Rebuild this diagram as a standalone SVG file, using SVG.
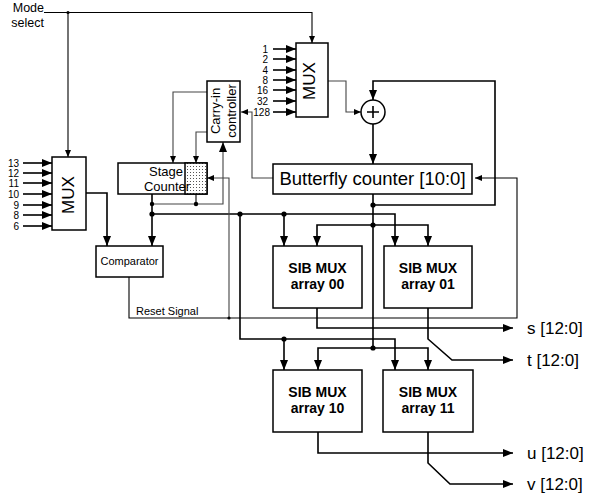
<svg xmlns="http://www.w3.org/2000/svg" width="589" height="501" viewBox="0 0 589 501">
<style>
text{font-family:"Liberation Sans",Arial,sans-serif;fill:#000}
.box{fill:#fff;stroke:#000;stroke-width:1.5}
.bus{fill:none;stroke:#000;stroke-width:1.6}
.ctl{fill:none;stroke:#444;stroke-width:1.1}
.sig{fill:none;stroke:#000;stroke-width:1.1}
.lbl{font-size:10px;text-anchor:end}
.sib{font-size:14px;font-weight:bold;text-anchor:middle}
.out{font-size:17px}
</style>
<defs>
<marker id="ab" markerWidth="10" markerHeight="8" refX="10" refY="4" orient="auto" markerUnits="userSpaceOnUse"><path d="M0,0 L10,4 L0,8 z" fill="#000"/></marker>
<marker id="as" markerWidth="7" markerHeight="6" refX="7" refY="3" orient="auto" markerUnits="userSpaceOnUse"><path d="M0,0 L7,3 L0,6 z" fill="#000"/></marker>
<pattern id="dots" width="3" height="3" patternUnits="userSpaceOnUse"><rect width="3" height="3" fill="#fff"/><rect x="1" y="1" width="1" height="1" fill="#555"/></pattern>
</defs>

<g id="mode-select">
<text x="44" y="12" font-size="12.5" text-anchor="end">Mode</text>
<text x="44" y="27" font-size="12.5" text-anchor="end">select</text>
</g>

<g id="connectors">
<path class="sig" d="M44,12.5 H312 V43" marker-end="url(#as)"/>
<path class="sig" d="M68,12.5 V157" marker-end="url(#as)"/>
<path class="bus" d="M273,49 H296" marker-end="url(#ab)"/>
<path class="bus" d="M273,59 H296" marker-end="url(#ab)"/>
<path class="bus" d="M273,70 H296" marker-end="url(#ab)"/>
<path class="bus" d="M273,80 H296" marker-end="url(#ab)"/>
<path class="bus" d="M273,90 H296" marker-end="url(#ab)"/>
<path class="bus" d="M273,101 H296" marker-end="url(#ab)"/>
<path class="bus" d="M273,112 H296" marker-end="url(#ab)"/>
<path class="bus" d="M23,163 H52" marker-end="url(#ab)"/>
<path class="bus" d="M23,173 H52" marker-end="url(#ab)"/>
<path class="bus" d="M23,183 H52" marker-end="url(#ab)"/>
<path class="bus" d="M23,194 H52" marker-end="url(#ab)"/>
<path class="bus" d="M23,205 H52" marker-end="url(#ab)"/>
<path class="bus" d="M23,215 H52" marker-end="url(#ab)"/>
<path class="bus" d="M23,226 H52" marker-end="url(#ab)"/>
<path class="ctl" d="M328,81 H346 V112 H361" marker-end="url(#as)"/>
<path class="bus" d="M373,205 H495 V81 H373 V100" marker-end="url(#ab)"/>
<path class="bus" d="M373,124 V164" marker-end="url(#ab)"/>
<path class="bus" d="M373,194 V348"/>
<path class="bus" d="M373,225 H317 V246" marker-end="url(#ab)"/>
<path class="bus" d="M373,225 H428 V246" marker-end="url(#ab)"/>
<path class="bus" d="M373,348 H318 V370" marker-end="url(#ab)"/>
<path class="bus" d="M373,348 H428 V370" marker-end="url(#ab)"/>
<path class="bus" d="M152,194 V246" marker-end="url(#ab)"/>
<path class="bus" d="M152,214 H395 V246" marker-end="url(#ab)"/>
<path class="bus" d="M284,214 V246" marker-end="url(#ab)"/>
<path class="bus" d="M240,214 V339 H395 V370" marker-end="url(#ab)"/>
<path class="bus" d="M284,339 V370" marker-end="url(#ab)"/>
<path class="sig" d="M196,194 V204"/>
<path class="ctl" d="M152,204 H223 V142" marker-end="url(#ab)"/>
<path class="ctl" d="M207,92 H173 V163" marker-end="url(#as)"/>
<path class="ctl" d="M207,132 H196 V163" marker-end="url(#as)"/>
<path class="ctl" d="M273,178 H252 V112 H241" marker-end="url(#as)"/>
<path class="sig" d="M129,277 V318 H517 V178 H475" marker-end="url(#as)"/>
<path class="ctl" d="M229,318 V178 H207" marker-end="url(#as)"/>
<path class="bus" d="M86,193 H107 V246" marker-end="url(#ab)"/>
<path class="bus" d="M317,308 V328 H513" marker-end="url(#ab)"/>
<path class="bus" d="M428,308 V339 L452,360 H513" marker-end="url(#ab)"/>
<path class="bus" d="M318,432 V453 H513" marker-end="url(#ab)"/>
<path class="bus" d="M428,432 V463 L450,484 H513" marker-end="url(#ab)"/>
<g fill="#000">
<circle cx="68" cy="12.5" r="1.6"/>
<circle cx="373" cy="205" r="2.6"/>
<circle cx="373" cy="225" r="2.6"/>
<circle cx="373" cy="348" r="2.6"/>
<circle cx="152" cy="204" r="2.2"/>
<circle cx="152" cy="214" r="2.6"/>
<circle cx="240" cy="214" r="2.6"/>
<circle cx="284" cy="214" r="2.6"/>
<circle cx="284" cy="339" r="2.6"/>
<circle cx="196" cy="204" r="2.2"/>
<circle cx="229" cy="318" r="1.6"/>
</g>
<text x="136" y="315" font-size="11">Reset Signal</text>
</g>

<g id="mux-top">
<rect class="box" x="296" y="43" width="32" height="74"/>
<text transform="translate(315,81) rotate(-90)" font-size="17" text-anchor="middle">MUX</text>
<text class="lbl" x="268" y="52.5">1</text>
<text class="lbl" x="268" y="62.5">2</text>
<text class="lbl" x="268" y="73.5">4</text>
<text class="lbl" x="268" y="83.5">8</text>
<text class="lbl" x="268" y="93.5">16</text>
<text class="lbl" x="268" y="104.5">32</text>
<text class="lbl" x="270" y="115.5">128</text>
</g>

<g id="mux-left">
<rect class="box" x="52" y="157" width="34" height="73"/>
<text transform="translate(74,195) rotate(-90)" font-size="17" text-anchor="middle">MUX</text>
<text class="lbl" x="19" y="166.5">13</text>
<text class="lbl" x="19" y="176.5">12</text>
<text class="lbl" x="19" y="186.5">11</text>
<text class="lbl" x="19" y="197.5">10</text>
<text class="lbl" x="19" y="208.5">9</text>
<text class="lbl" x="19" y="218.5">8</text>
<text class="lbl" x="19" y="229.5">6</text>
</g>

<g id="carry-in-controller">
<rect class="box" x="207" y="81" width="33" height="61"/>
<g transform="translate(223,111) rotate(-90)" font-size="13" text-anchor="middle">
<text x="0" y="-3">Carry-in</text>
<text x="0" y="13">controller</text>
</g>
</g>

<g id="stage-counter">
<rect class="box" x="118" y="163" width="89" height="31"/>
<rect x="185" y="163" width="22" height="31" fill="url(#dots)" stroke="#000" stroke-width="1.5"/>
<text x="166" y="176" font-size="13" text-anchor="middle">Stage</text>
<text x="167" y="191" font-size="13" text-anchor="middle">Counter</text>
</g>

<g id="adder">
<circle cx="373" cy="112" r="12" fill="#fff" stroke="#000" stroke-width="1.5"/>
<path d="M367,112 H379 M373,106 V118" stroke="#000" stroke-width="1.6"/>
</g>

<g id="butterfly-counter">
<rect class="box" x="273" y="164" width="199" height="30"/>
<text x="372.5" y="185" font-size="18.5" text-anchor="middle">Butterfly counter [10:0]</text>
</g>

<g id="comparator">
<rect class="box" x="96" y="246" width="67" height="31"/>
<text x="129.5" y="265" font-size="11" text-anchor="middle">Comparator</text>
</g>

<g id="sib00">
<rect class="box" x="273" y="246" width="89" height="62"/>
<text class="sib" x="317.5" y="273">SIB MUX</text>
<text class="sib" x="317.5" y="289">array 00</text>
</g>
<g id="sib01">
<rect class="box" x="384" y="246" width="88" height="62"/>
<text class="sib" x="428" y="273">SIB MUX</text>
<text class="sib" x="428" y="289">array 01</text>
</g>
<g id="sib10">
<rect class="box" x="273" y="370" width="89" height="62"/>
<text class="sib" x="317.5" y="397">SIB MUX</text>
<text class="sib" x="317.5" y="413">array 10</text>
</g>
<g id="sib11">
<rect class="box" x="383" y="370" width="90" height="62"/>
<text class="sib" x="428" y="397">SIB MUX</text>
<text class="sib" x="428" y="413">array 11</text>
</g>

<g id="outputs">
<text class="out" x="527" y="334">s [12:0]</text>
<text class="out" x="527" y="366">t [12:0]</text>
<text class="out" x="527" y="459">u [12:0]</text>
<text class="out" x="527" y="490">v [12:0]</text>
</g>
</svg>
